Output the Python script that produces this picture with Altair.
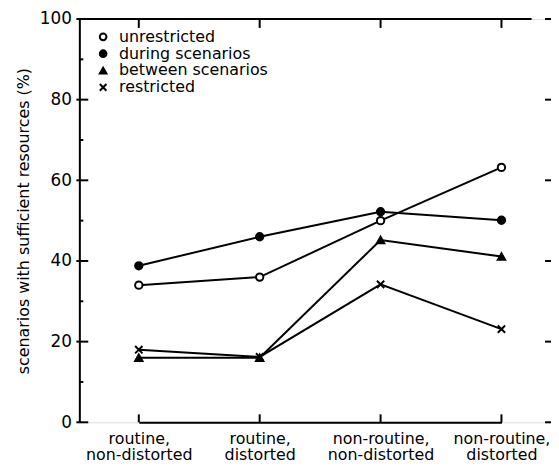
import altair as alt
import pandas as pd

categories = ["routine, non-distorted", "routine, distorted",
              "non-routine, non-distorted", "non-routine, distorted"]
series = ["unrestricted", "during scenarios", "between scenarios", "restricted"]
unrestricted = [34, 36, 50, 63.2]
during = [38.8, 46, 52.2, 50.1]
between = [16, 16, 45.2, 41.1]
restricted = [18, 16.2, 34.2, 23.1]

y_major = [0, 20, 40, 60, 80, 100]
y_minor = [10, 30, 50, 70, 90]

rows = []
for s, vals in zip(series, [unrestricted, during, between, restricted]):
    for c, v in zip(categories, vals):
        rows.append({"cat": c, "series": s, "value": v})
df = pd.DataFrame(rows)

W, H = 476, 407
FONT = "DejaVu Sans"

xs = alt.Scale(type="point", domain=categories, range=[60, 426], padding=0)
ys = alt.Scale(domain=[0, 100], nice=False)

x_enc = alt.X("cat:N", scale=xs, sort=categories,
              axis=alt.Axis(title=None, labelAngle=0, ticks=False, domain=True,
                            domainColor="black", domainWidth=2,
                            labelFont=FONT, labelFontSize=16, labelColor="black",
                            labelPadding=8, labelLineHeight=17,
                            labelExpr="split(datum.label, ' ')"))
y_enc = alt.Y("value:Q", scale=ys,
              axis=alt.Axis(title="scenarios with sufficient resources (%)",
                            values=y_major, ticks=False, grid=False,
                            domainColor="black", domainWidth=2,
                            labelFont=FONT, labelFontSize=17, labelColor="black",
                            labelPadding=8, titleFont=FONT, titleFontSize=16,
                            titleFontWeight="normal", titleColor="black",
                            titlePadding=8))

lines = alt.Chart(df).mark_line(color="black", strokeWidth=2).encode(
    x=x_enc, y=y_enc, detail="series:N")

shape_scale = alt.Scale(domain=series,
                        range=["circle", "circle", "triangle-up", "M-1,-1L1,1M-1,1L1,-1"])
fill_scale = alt.Scale(domain=series, range=["white", "black", "black", "black"])
stroke_scale = alt.Scale(domain=series, range=["black", "black", "black", "black"])
legend = alt.Legend(title=None, orient="none", legendX=16, legendY=10,
                    labelFont=FONT, labelFontSize=16, labelColor="black",
                    symbolStrokeWidth=2, symbolSize=45,
                    rowPadding=1, labelOffset=8)

points = alt.Chart(df).mark_point(filled=True, strokeWidth=2,
                                  size=55, opacity=1).encode(
    x=alt.X("cat:N", scale=xs, sort=categories),
    y=alt.Y("value:Q", scale=ys),
    shape=alt.Shape("series:N", scale=shape_scale, legend=legend),
    fill=alt.Fill("series:N", scale=fill_scale, legend=legend),
    stroke=alt.Stroke("series:N", scale=stroke_scale, legend=legend),
)

ymaj = pd.DataFrame({"v": y_major})
ymin = pd.DataFrame({"v": y_minor})
catdf = pd.DataFrame({"cat": categories})

left_major = alt.Chart(ymaj).mark_rule(color="black", strokeWidth=2).encode(
    y=alt.Y("v:Q", scale=ys), x=alt.value(-3), x2=alt.value(9))
left_minor = alt.Chart(ymin).mark_rule(color="black", strokeWidth=2).encode(
    y=alt.Y("v:Q", scale=ys), x=alt.value(0), x2=alt.value(4))
right_major = alt.Chart(ymaj).mark_rule(color="black", strokeWidth=2).encode(
    y=alt.Y("v:Q", scale=ys), x=alt.value(W), x2=alt.value(W - 6))
bottom_ticks = alt.Chart(catdf).mark_rule(color="black", strokeWidth=2).encode(
    x=alt.X("cat:N", scale=xs, sort=categories), y=alt.value(H), y2=alt.value(H - 8))
top_ticks = alt.Chart(catdf).mark_rule(color="black", strokeWidth=2).encode(
    x=alt.X("cat:N", scale=xs, sort=categories), y=alt.value(0), y2=alt.value(9))
top_line = alt.Chart(catdf).mark_rule(color="black", strokeWidth=2).encode(
    y=alt.value(0), x=alt.value(0), x2=alt.value(W - 20))

chart = alt.layer(lines, points, left_major, left_minor, right_major,
                  bottom_ticks, top_ticks, top_line).properties(
    width=W, height=H,
    autosize=alt.AutoSizeParams(type="none"),
    padding={"left": 72, "top": 9, "right": 0, "bottom": 40},
).configure_view(stroke=None).configure(background="white")

chart.save("out.html", embed_options={"renderer": "svg", "actions": False})
